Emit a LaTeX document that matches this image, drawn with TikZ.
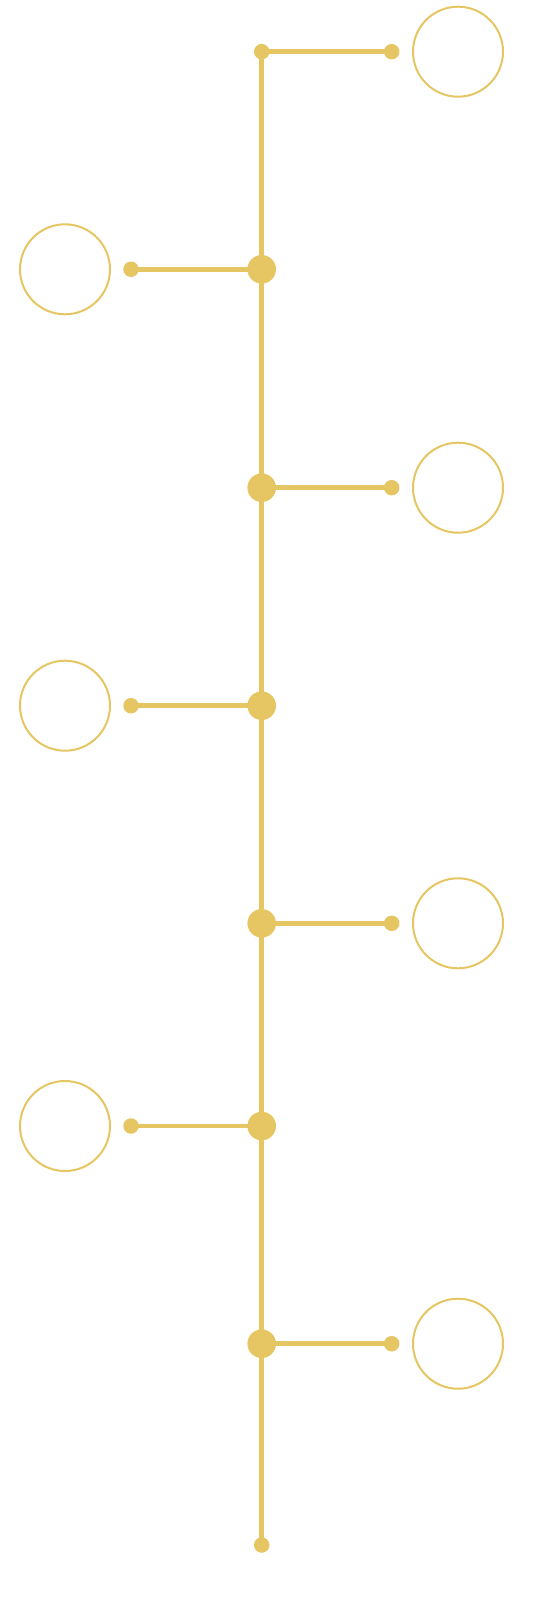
\documentclass[tikz,border=0pt]{standalone}
\definecolor{gold}{RGB}{230,198,98}
\tikzset{
  bigdot/.style={circle, fill=gold, inner sep=0pt, minimum size=28.6pt},
  smalldot/.style={circle, fill=gold, inner sep=0pt, minimum size=15.5pt},
  ring/.style={circle, draw=gold, line width=2pt, inner sep=0pt, minimum size=90pt},
  stem/.style={draw=gold, line width=4.5pt}
}
\begin{document}
\begin{tikzpicture}[x=1pt, y=-1pt]
                \useasboundingbox (0,0) rectangle (544,1600);
                \node[smalldot] (top) at (261.7, 51.7) {};
                \node[bigdot] (hubb) at (261.7, 269.3) {};
                \node[bigdot] (hubc) at (261.7, 487.7) {};
                \node[bigdot] (hubd) at (261.7, 705.7) {};
                \node[bigdot] (hube) at (261.7, 923.3) {};
                \node[bigdot] (hubf) at (261.7, 1126) {};
                \node[bigdot] (hubg) at (261.7, 1343.7) {};
                \node[smalldot] (bottom) at (261.7, 1545) {};
                \node[smalldot] (enda) at (391.7, 51.7) {};
                \node[smalldot] (endb) at (131, 269.3) {};
                \node[smalldot] (endc) at (391.7, 487.7) {};
                \node[smalldot] (endd) at (131, 705.7) {};
                \node[smalldot] (ende) at (391.7, 923.3) {};
                \node[smalldot] (endf) at (131, 1126) {};
                \node[smalldot] (endg) at (391.7, 1343.7) {};
                \node[ring] (ringa) at (458, 51.7) {};
                \node[ring] (ringb) at (65, 269.3) {};
                \node[ring] (ringc) at (458, 487.7) {};
                \node[ring] (ringd) at (65, 705.7) {};
                \node[ring] (ringe) at (458, 923.3) {};
                \node[ring] (ringf) at (65, 1126) {};
                \node[ring] (ringg) at (458, 1343.7) {};
                \draw[stem] (top.center) -- (hubb.center) -- (hubc.center) -- (hubd.center) -- (hube.center) -- (hubf.center) -- (hubg.center) -- (bottom.center);
                \draw[stem] (top.center) -- (enda.center);
                \draw[stem] (hubb.center) -- (endb.center);
                \draw[stem] (hubc.center) -- (endc.center);
                \draw[stem] (hubd.center) -- (endd.center);
                \draw[stem] (hube.center) -- (ende.center);
                \draw[stem] (hubf.center) -- (endf.center);
                \draw[stem] (hubg.center) -- (endg.center);
            \end{tikzpicture}
\end{document}
